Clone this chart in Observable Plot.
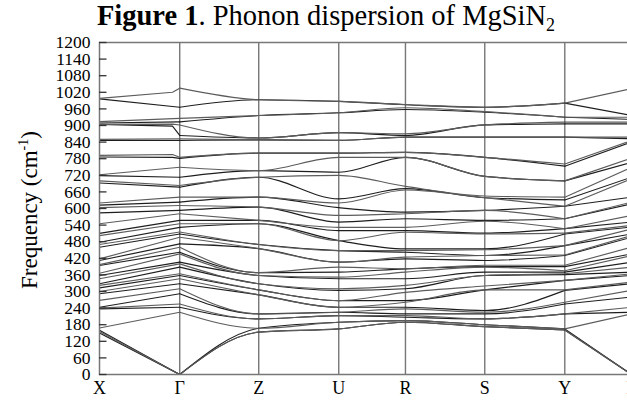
<!DOCTYPE html>
<html>
<head>
<meta charset="utf-8">
<script src="https://cdn.jsdelivr.net/npm/d3@7"></script>
<script src="https://cdn.jsdelivr.net/npm/@observablehq/plot@0.6"></script>
<style>
html, body { margin: 0; padding: 0; background: #fff; overflow: hidden; width: 627px; height: 401px; }
</style>
</head>
<body>
<div id="chart"></div>
<script>
// High-symmetry path (reciprocal-space distance along the path)
const kLabels = ["X", "Γ", "Z", "U", "R", "S", "Y", "Γ"];
const kPos = [0, 0.802, 1.592, 2.392, 3.059, 3.852, 4.652, 5.319];
const kGammaKink = 0.73; // where the LO-TO split branches kink just before Γ

// Frequencies (cm^-1) of the 44 drawn branches, sorted, at each point
const fX = [150,155,160,168,237,240,243,268,292,300,313,322,328,346,358,366,394,397,412,418,460,470,478,502,510,545,584,603,612,620,692,700,719,722,786,792,846,850,904,904,909,914,996,998];
const fGammaIn = [0,0,0,225,243,255,292,310,328,346,358,364,388,400,406,436,442,460,472,496,508,515,532,545,557,581,593,611,623,641,677,683,713,749,785,795,846,852,898,905,913,926,966,1020];
const fGamma = [0,0,0,225,243,255,292,310,328,346,358,364,388,400,406,436,442,460,472,496,508,515,532,545,557,581,593,611,623,641,677,683,713,749,781,785,846,852,864,902,913,926,966,1035];
const fZ = [153,153,167,167,201,201,219,219,288,288,306,306,328,328,358,358,368,368,455,455,470,470,545,545,557,557,605,605,641,641,713,713,737,737,800,800,848,848,855,855,936,936,993,993];
const fU = [165,165,189,189,213,213,225,225,243,243,267,267,304,310,346,352,370,388,406,406,448,448,484,484,520,532,551,575,603,620,635,720,731,785,800,800,846,846,874,874,946,946,987,987];
const fR = [189,189,195,195,207,213,219,237,243,261,267,297,310,322,346,370,382,382,418,424,442,448,454,514,520,532,563,581,587,667,672,680,785,785,803,803,858,858,864,870,958,964,975,976];
const fS = [173,173,180,180,201,201,219,225,231,306,306,320,358,358,370,388,390,395,412,430,430,451,454,508,511,554,557,593,593,639,639,645,716,716,785,785,858,858,902,902,948,950,966,966];
const fY = [161,161,165,165,219,219,255,261,304,306,340,340,361,364,370,375,390,395,430,432,466,466,508,511,527,527,563,563,608,608,631,641,700,700,753,761,858,858,906,912,930,930,981,981];
const fGammaEnd = [0,0,0,219,225,243,280,304,328,334,358,364,370,388,406,430,436,460,496,502,508,526,533,539,551,575,617,623,641,707,713,749,767,782,840,846,852,858,906,912,922,930,936,1033];

const yTicks = [0,60,120,180,240,300,360,420,480,540,600,660,720,780,840,900,960,1020,1080,1140,1200];
const tickLength = 0.075; // inward tick length, in path units

// Build rows: piece 0 = X→Γ (straight), piece 1 = Γ→Z→U→R→S→Y (smooth), piece 2 = Y→Γ (straight)
const rows = [];
const along = [fGamma, fZ, fU, fR, fS, fY];
for (let b = 0; b < fX.length; b++) {
  const shade = b % 2;
  rows.push({band: b, piece: 0, shade, k: kPos[0], f: fX[b]});
  if (fGammaIn[b] !== fGamma[b]) rows.push({band: b, piece: 0, shade, k: kGammaKink, f: fGammaIn[b]});
  rows.push({band: b, piece: 0, shade, k: kPos[1], f: fGamma[b]});
  along.forEach((arr, i) => rows.push({band: b, piece: 1, shade, k: kPos[i + 1], f: arr[b]}));
  rows.push({band: b, piece: 2, shade, k: kPos[6], f: fY[b]});
  rows.push({band: b, piece: 2, shade, k: kPos[7], f: fGammaEnd[b]});
}

const shades = ["#1e1e1e", "#5c5c5c"];
function bandMarks(piece, curve) {
  return [0, 1].map(s => Plot.line(rows.filter(d => d.piece === piece && d.shade === s), {
    x: "k", y: "f", z: "band", stroke: shades[s], strokeWidth: 1.15, curve
  }));
}

const chart = Plot.plot({
  width: 631,
  height: 401,
  marginLeft: 99,
  marginRight: 0,
  marginTop: 42,
  marginBottom: 27,
  style: {fontFamily: "Liberation Serif", background: "white", color: "black"},
  x: {domain: [kPos[0], kPos[kPos.length - 1]]},
  y: {domain: [0, 1200]},
  marks: [
    Plot.ruleX(kPos.slice(1, -1), {stroke: "#777", strokeWidth: 1.4}),
    ...bandMarks(0, "linear"),
    ...bandMarks(1, "monotone-x"),
    ...bandMarks(2, "linear"),
    Plot.frame({stroke: "#777", strokeWidth: 1.5}),
    // inward tick marks on the left frame
    Plot.ruleY(yTicks, {y: d => d, x1: kPos[0], x2: kPos[0] + tickLength, stroke: "#333", strokeWidth: 1.3}),
    Plot.axisY({ticks: yTicks, tickSize: 0, tickPadding: 9, fontSize: 17.5, label: null,
      tickFormat: d => String(d)}),
    Plot.axisX({ticks: kPos, tickSize: 0, tickPadding: 7, fontSize: 18, label: null,
      tickFormat: d => kLabels[kPos.indexOf(d)]})
  ]
});
chart.style.maxWidth = "none";
chart.style.display = "block";
document.getElementById("chart").appendChild(chart);

const svg = d3.select(chart);
const title = svg.append("text")
  .attr("x", 326).attr("y", 25)
  .attr("text-anchor", "middle")
  .attr("font-family", "Liberation Serif")
  .attr("font-size", 28.5)
  .attr("fill", "black");
title.append("tspan").attr("font-weight", "bold").text("Figure 1");
title.append("tspan").text(". Phonon dispersion of MgSiN");
title.append("tspan").attr("font-size", 18).attr("dy", 6).text("2");

const ylab = svg.append("text")
  .attr("transform", "translate(37,210) rotate(-90)")
  .attr("text-anchor", "middle")
  .attr("font-family", "Liberation Serif")
  .attr("font-size", 23)
  .attr("fill", "black");
ylab.append("tspan").text("Frequency (cm");
ylab.append("tspan").attr("font-size", 14).attr("dy", -9).text("-1");
ylab.append("tspan").attr("dy", 9).text(")");
</script>
</body>
</html>
